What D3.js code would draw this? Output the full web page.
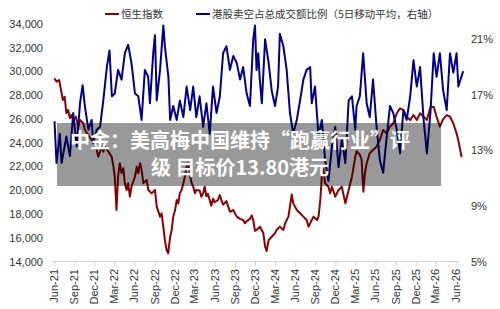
<!DOCTYPE html>
<html lang="zh">
<head>
<meta charset="utf-8">
<script src="https://d3js.org/d3.v7.min.js"></script>
<style>
  body { margin: 0; background: #fff; }
  svg { display: block; }
  .tick-lbl { font-family: "Liberation Sans", Arial, sans-serif; font-size: 11px; fill: #333; }
  .legend { font-family: "Noto Sans CJK SC", sans-serif; font-size: 10.5px; fill: #333; }
  .headline { font-family: "Noto Sans CJK SC", sans-serif; font-size: 20px; font-weight: bold; fill: #fff; }
</style>
</head>
<body>
<div id="chart"></div>
<script>
// x axis labels (quarterly)
const quarterLabels = ["Jun-21","Sep-21","Dec-21","Mar-22","Jun-22","Sep-22","Dec-22","Mar-23","Jun-23","Sep-23",
  "Dec-23","Mar-24","Jun-24","Sep-24","Dec-24","Mar-25","Jun-25","Sep-25","Dec-25","Mar-26","Jun-26"];
const leftTicks = [14000, 16000, 18000, 20000, 22000, 24000, 26000, 28000, 30000, 32000, 34000];
const rightTicks = [5, 9, 13, 17, 21];

const legendNames = ["恒生指数", "港股卖空占总成交额比例（5日移动平均，右轴）"];
const headline = ["中金：美高梅中国维持“跑赢行业”评", "级 目标价13.80港元"];

// Hang Seng Index (left axis)
const hsi = [
  ["2021-06-01",29430],["2021-06-11",29150],["2021-06-23",29290],["2021-07-03",28300],["2021-07-10",27600],
  ["2021-07-18",27880],["2021-07-26",26490],["2021-08-03",26760],["2021-08-11",26070],["2021-08-18",26340],
  ["2021-08-26",25920],["2021-09-07",26200],["2021-09-18",25360],["2021-09-26",25920],["2021-10-11",25650],
  ["2021-10-18",25080],["2021-11-03",24660],["2021-11-18",24240],["2021-12-03",23960],["2021-12-11",23400],
  ["2021-12-18",22830],["2021-12-26",23250],["2022-01-03",23680],["2022-01-10",23260],["2022-01-18",23680],
  ["2022-02-02",23260],["2022-02-17",22830],["2022-02-25",22000],["2022-03-03",21150],["2022-03-11",18350],
  ["2022-03-18",21150],["2022-03-26",22280],["2022-04-03",21440],["2022-04-11",21860],["2022-04-18",20600],
  ["2022-04-26",20030],["2022-05-03",20600],["2022-05-11",19470],["2022-05-18",20310],["2022-06-03",21150],
  ["2022-06-11",22000],["2022-06-18",21440],["2022-06-26",22280],["2022-07-03",21720],["2022-07-11",20600],
  ["2022-07-26",20870],["2022-08-03",20030],["2022-08-18",19750],["2022-09-02",20030],["2022-09-10",18630],
  ["2022-09-25",17790],["2022-10-02",18070],["2022-10-10",16940],["2022-10-17",15820],["2022-10-25",14980],
  ["2022-11-01",14700],["2022-11-10",16100],["2022-11-17",16670],["2022-11-24",17790],["2022-12-02",18300],
  ["2022-12-10",19190],["2022-12-17",18910],["2022-12-24",19750],["2023-01-01",20030],["2023-01-09",20600],
  ["2023-01-16",21150],["2023-01-24",22000],["2023-02-01",22280],["2023-02-09",21150],["2023-02-16",20600],
  ["2023-02-23",20310],["2023-03-03",19750],["2023-03-09",20030],["2023-03-24",20000],["2023-04-01",19470],
  ["2023-04-09",19750],["2023-04-16",20310],["2023-04-24",19500],["2023-05-01",19700],["2023-05-09",19190],
  ["2023-05-16",18700],["2023-05-24",19300],["2023-06-01",19000],["2023-06-16",19190],["2023-06-24",19600],
  ["2023-07-01",19190],["2023-07-09",18800],["2023-07-24",19100],["2023-08-09",18200],["2023-08-24",18350],
  ["2023-09-09",17790],["2023-09-24",17600],["2023-10-08",17510],["2023-10-16",17230],["2023-10-24",17400],
  ["2023-11-08",17600],["2023-11-16",17900],["2023-11-23",17510],["2023-12-01",16600],["2023-12-08",16670],
  ["2023-12-24",16950],["2024-01-08",16390],["2024-01-16",15260],["2024-01-23",14900],["2024-02-01",15820],
  ["2024-02-15",16100],["2024-03-01",16390],["2024-03-08",16670],["2024-03-23",16950],["2024-04-08",16670],
  ["2024-04-16",17230],["2024-05-01",17790],["2024-05-08",18630],["2024-05-16",19650],["2024-05-23",18910],
  ["2024-06-08",18350],["2024-06-23",18070],["2024-07-08",17790],["2024-07-23",17510],["2024-08-01",16950],
  ["2024-08-08",17230],["2024-08-23",17790],["2024-09-08",17510],["2024-09-15",17790],["2024-09-23",19190],
  ["2024-09-30",21150],["2024-10-07",21800],["2024-10-15",20600],["2024-10-30",20310],["2024-11-07",19750],
  ["2024-11-15",20310],["2024-11-30",19470],["2024-12-15",20030],["2024-12-30",20310],["2025-01-15",18910],
  ["2025-01-30",20030],["2025-02-14",21150],["2025-03-01",22800],["2025-03-07",23300],["2025-03-22",23000],
  ["2025-03-30",22600],["2025-04-07",19890],["2025-04-14",21440],["2025-04-22",22280],["2025-05-06",23120],
  ["2025-05-21",23400],["2025-06-06",23680],["2025-06-21",24240],["2025-07-06",25080],["2025-07-21",24800],
  ["2025-08-06",25360],["2025-08-21",25650],["2025-09-06",26490],["2025-09-21",26910],["2025-10-06",26760],
  ["2025-10-21",26200],["2025-11-06",25920],["2025-11-21",26340],["2025-12-06",25920],["2025-12-21",26490],
  ["2026-01-06",26200],["2026-01-21",25920],["2026-02-06",27000],["2026-02-21",27040],["2026-03-06",26200],
  ["2026-03-21",25360],["2026-04-05",26000],["2026-04-21",26340],["2026-05-06",26200],["2026-05-21",25650],
  ["2026-06-05",24800],["2026-06-13",24200],["2026-06-28",22790]
];

// short selling share of turnover, 5-day MA, % (right axis)
const shortRatio = [
  ["2021-06-02",15.1],["2021-06-11",12.1],["2021-06-26",14.2],["2021-07-04",12.1],["2021-07-26",14.0],
  ["2021-08-11",12.6],["2021-08-26",15.7],["2021-09-11",13.3],["2021-09-26",16.4],["2021-10-08",17.7],
  ["2021-10-18",16.2],["2021-11-03",14.5],["2021-11-18",15.2],["2021-11-25",13.5],["2021-12-11",14.5],
  ["2021-12-26",14.7],["2022-01-10",16.6],["2022-01-26",19.0],["2022-02-07",20.2],["2022-02-18",16.9],
  ["2022-03-03",17.1],["2022-03-18",18.8],["2022-04-03",18.1],["2022-04-18",20.0],["2022-05-03",20.6],
  ["2022-05-18",19.3],["2022-06-03",17.1],["2022-06-18",16.9],["2022-07-03",15.2],["2022-07-18",18.8],
  ["2022-08-02",18.3],["2022-08-10",16.4],["2022-08-25",20.0],["2022-09-02",21.3],["2022-09-10",16.6],
  ["2022-09-25",18.8],["2022-10-10",22.0],["2022-10-17",20.5],["2022-11-02",18.3],["2022-11-10",15.2],
  ["2022-11-24",16.2],["2022-12-10",15.2],["2022-12-24",16.6],["2023-01-09",15.4],["2023-01-24",17.6],
  ["2023-02-09",15.9],["2023-02-23",17.6],["2023-03-09",15.4],["2023-03-24",16.9],["2023-04-09",14.7],
  ["2023-04-24",16.4],["2023-05-09",14.2],["2023-05-24",17.6],["2023-06-09",15.7],["2023-06-24",16.9],
  ["2023-07-09",20.0],["2023-07-24",20.5],["2023-08-09",18.8],["2023-08-24",19.8],["2023-09-09",19.3],
  ["2023-09-24",18.1],["2023-10-08",19.0],["2023-10-24",17.1],["2023-11-08",16.2],["2023-11-23",21.0],
  ["2023-12-01",22.0],["2023-12-08",18.8],["2023-12-16",20.0],["2023-12-22",18.3],["2024-01-01",16.4],
  ["2024-01-16",21.0],["2024-02-01",19.3],["2024-02-15",17.3],["2024-03-01",16.2],["2024-03-15",17.6],
  ["2024-03-23",21.4],["2024-04-08",20.5],["2024-04-23",18.8],["2024-05-08",15.7],["2024-05-23",14.2],
  ["2024-06-08",15.2],["2024-06-23",16.6],["2024-07-08",18.1],["2024-07-23",18.8],["2024-08-08",19.0],
  ["2024-08-15",16.4],["2024-08-30",17.6],["2024-09-15",14.0],["2024-09-30",15.2],["2024-10-15",12.3],
  ["2024-10-30",10.8],["2024-11-15",13.3],["2024-11-30",14.7],["2024-12-15",11.8],["2024-12-30",13.8],
  ["2025-01-15",12.1],["2025-01-30",16.6],["2025-02-14",16.9],["2025-03-01",14.5],["2025-03-07",16.2],
  ["2025-03-22",16.9],["2025-04-06",20.0],["2025-04-22",16.4],["2025-05-06",15.4],["2025-05-21",18.1],
  ["2025-06-06",14.7],["2025-06-21",12.3],["2025-07-06",11.4],["2025-07-21",13.8],["2025-08-06",16.2],
  ["2025-08-21",15.7],["2025-09-06",14.5],["2025-09-21",12.8],["2025-10-06",15.9],["2025-10-21",15.2],
  ["2025-11-06",16.9],["2025-11-21",19.5],["2025-12-06",17.6],["2025-12-21",19.0],["2026-01-06",15.2],
  ["2026-01-21",12.8],["2026-02-06",15.7],["2026-02-21",20.0],["2026-03-06",18.3],["2026-03-21",20.0],
  ["2026-04-05",17.3],["2026-04-21",15.9],["2026-05-06",20.0],["2026-05-21",18.6],["2026-06-05",20.0],
  ["2026-06-13",17.6],["2026-07-05",18.7]
];

const W = 500, H = 309;
const parseDay = d3.timeParse("%Y-%m-%d");
const parseQ = d3.timeParse("%b-%y");
const quarterDates = quarterLabels.map(parseQ);

const svg = d3.select("#chart").append("svg")
  .attr("width", W).attr("height", H);

svg.append("rect").attr("width", W).attr("height", H).attr("fill", "#fff");

var x = d3.scaleTime()
  .domain([quarterDates[0], quarterDates[quarterDates.length - 1]])
  .range([54.3, 455.7]);
var yL = d3.scaleLinear().domain([14000, 34000]).range([261.7, 24]);
var yR = d3.scaleLinear().domain([5, 21]).range([261.7, 39.3]);

// bottom axis
var xAxis = svg.append("g")
  .attr("transform", "translate(0,261.5)")
  .call(d3.axisBottom(x).tickValues(quarterDates).tickSize(5).tickFormat(""));
xAxis.select(".domain").attr("stroke", "#d4d4d4").attr("d", "M52,0H459");
xAxis.selectAll(".tick line").attr("stroke", "#d4d4d4");

svg.append("g").selectAll("text")
  .data(quarterDates)
  .join("text")
    .attr("class", "tick-lbl")
    .attr("transform", d => "translate(" + x(d) + ",269) rotate(-90)")
    .attr("text-anchor", "end")
    .attr("dy", "0.35em")
    .text((d, i) => quarterLabels[i]);

// left labels
svg.append("g").selectAll("text")
  .data(leftTicks)
  .join("text")
    .attr("class", "tick-lbl")
    .attr("x", 43)
    .attr("y", d => yL(d))
    .attr("dy", "0.35em")
    .attr("text-anchor", "end")
    .text(d => d3.format(",")(d));

// right labels
svg.append("g").selectAll("text")
  .data(rightTicks)
  .join("text")
    .attr("class", "tick-lbl")
    .attr("x", 471)
    .attr("y", d => yR(d))
    .attr("dy", "0.35em")
    .text(d => d + "%");

// lines
svg.append("path")
  .datum(hsi)
  .attr("fill", "none")
  .attr("stroke", "#8b0000")
  .attr("stroke-width", 2)
  .attr("stroke-linejoin", "round")
  .attr("d", d3.line()
    .x(d => x(parseDay(d[0])))
    .y(d => yL(d[1])));

svg.append("path")
  .datum(shortRatio)
  .attr("fill", "none")
  .attr("stroke", "#00008b")
  .attr("stroke-width", 2)
  .attr("stroke-linejoin", "round")
  .attr("d", d3.line()
    .x(d => x(parseDay(d[0])))
    .y(d => yR(d[1])));

// legend
var legColors = ["#8b0000", "#00008b"];
var legX = [105, 196];
legendNames.forEach(function(name, i) {
  svg.append("line")
    .attr("x1", legX[i]).attr("x2", legX[i] + 14)
    .attr("y1", 14).attr("y2", 14)
    .attr("stroke", legColors[i]).attr("stroke-width", 2);
  svg.append("text")
    .attr("class", "legend")
    .attr("x", legX[i] + 16)
    .attr("y", 14)
    .attr("dy", "0.35em")
    .text(name);
});

// headline overlay box
svg.append("rect")
  .attr("x", 57).attr("y", 123)
  .attr("width", 384).attr("height", 63)
  .attr("fill", "rgba(0,0,0,0.4)");
headline.forEach(function(t, i) {
  svg.append("text")
    .attr("class", "headline")
    .attr("x", 240)
    .attr("y", 148 + i * 27)
    .attr("text-anchor", "middle")
    .text(t);
});
</script>
</body>
</html>
